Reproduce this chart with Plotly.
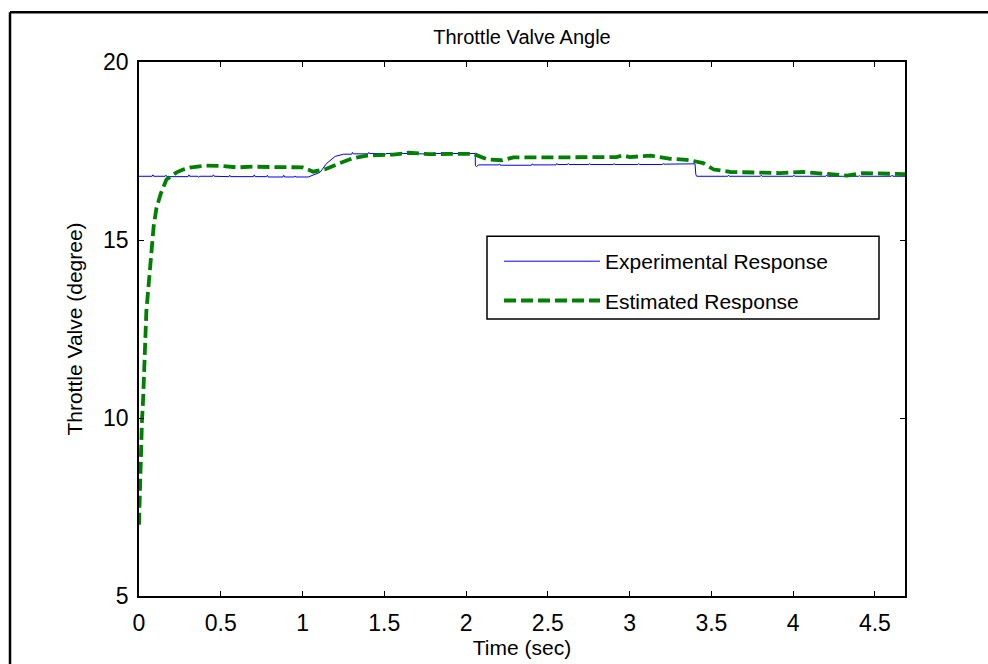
import plotly.graph_objects as go

# ---------------- data ----------------
est_t = [0.000, 0.005, 0.010, 0.018, 0.025, 0.035, 0.045, 0.060, 0.072, 0.090,
         0.107, 0.133, 0.168, 0.200, 0.230, 0.270, 0.310, 0.410, 0.500, 0.600,
         0.700, 0.800, 0.900, 1.000, 1.065, 1.147, 1.229, 1.310, 1.393, 1.555,
         1.650, 1.780, 1.900, 2.045, 2.100, 2.135, 2.220, 2.290, 2.500, 2.700,
         2.920, 2.960, 3.000, 3.130, 3.250, 3.330, 3.370, 3.450, 3.515, 3.617,
         3.780, 3.920, 4.060, 4.190, 4.330, 4.430, 4.615, 4.684]
est_v = [7.00, 8.00, 9.10, 9.90, 10.50, 11.70, 13.00, 13.80, 14.50, 15.40,
         15.90, 16.30, 16.70, 16.82, 16.90, 16.98, 17.03, 17.09, 17.08, 17.04,
         17.06, 17.05, 17.05, 17.04, 16.92, 17.00, 17.16, 17.30, 17.37, 17.40,
         17.45, 17.41, 17.42, 17.42, 17.32, 17.26, 17.24, 17.32, 17.32, 17.32,
         17.33, 17.38, 17.33, 17.37, 17.28, 17.26, 17.24, 17.16, 16.98, 16.91,
         16.88, 16.88, 16.91, 16.86, 16.81, 16.88, 16.86, 16.85]

exp_t = [0.00, 0.08, 0.085, 0.09, 0.16, 0.165, 0.17, 0.30, 0.305, 0.31,
         0.36, 0.365, 0.37, 0.45, 0.455, 0.46, 0.55, 0.555, 0.56, 0.60,
         0.605, 0.61, 0.70, 0.705, 0.71, 0.78, 0.785, 0.79, 0.88, 0.885,
         0.89, 0.95, 0.955, 0.96, 1.035, 1.107, 1.147, 1.200, 1.250, 1.30,
         1.305, 1.31, 1.40, 1.405, 1.41, 1.50, 1.505, 1.51, 1.60, 1.605,
         1.61, 1.70, 1.705, 1.71, 1.80, 1.805, 1.81, 1.90, 1.905, 1.91,
         2.00, 2.056, 2.057, 2.065, 2.075, 2.20, 2.205, 2.21, 2.40, 2.405,
         2.41, 2.55, 2.555, 2.56, 2.62, 2.625, 2.63, 2.75, 2.755, 2.76,
         2.90, 2.905, 2.91, 3.05, 3.055, 3.06, 3.20, 3.205, 3.21, 3.30,
         3.35, 3.400, 3.405, 3.41, 3.60, 3.605, 3.61, 3.80, 3.805, 3.81,
         4.00, 4.005, 4.01, 4.20, 4.205, 4.21, 4.40, 4.405, 4.41, 4.60,
         4.605, 4.61, 4.684]
exp_v = [16.79, 16.79, 16.83, 16.79, 16.79, 16.82, 16.78, 16.78, 16.83, 16.79,
         16.79, 16.76, 16.79, 16.79, 16.83, 16.79, 16.78, 16.82, 16.78, 16.78,
         16.76, 16.78, 16.78, 16.83, 16.78, 16.78, 16.82, 16.77, 16.77, 16.82,
         16.77, 16.77, 16.80, 16.77, 16.77, 16.90, 17.15, 17.35, 17.41, 17.41,
         17.46, 17.42, 17.42, 17.46, 17.43, 17.43, 17.40, 17.43, 17.43, 17.47,
         17.43, 17.43, 17.46, 17.42, 17.42, 17.46, 17.43, 17.43, 17.46, 17.43,
         17.43, 17.43, 17.09, 17.06, 17.11, 17.11, 17.14, 17.10, 17.10, 17.14,
         17.11, 17.11, 17.15, 17.12, 17.12, 17.15, 17.12, 17.12, 17.15, 17.12,
         17.12, 17.15, 17.12, 17.12, 17.15, 17.12, 17.12, 17.15, 17.13, 17.14,
         17.14, 17.14, 16.84, 16.79, 16.79, 16.82, 16.79, 16.79, 16.82, 16.79,
         16.79, 16.82, 16.79, 16.79, 16.82, 16.79, 16.79, 16.81, 16.79, 16.79,
         16.82, 16.79, 16.79]

x_ticks = [0, 0.5, 1, 1.5, 2, 2.5, 3, 3.5, 4, 4.5]
x_tick_text = ["0", "0.5", "1", "1.5", "2", "2.5", "3", "3.5", "4", "4.5"]
y_ticks = [5, 10, 15, 20]
y_tick_text = ["5", "10", "15", "20"]

FONT = "Liberation Sans, Arial, sans-serif"

fig = go.Figure()
fig.add_trace(go.Scatter(
    x=exp_t, y=exp_v, mode="lines", name="Experimental Response",
    line=dict(color="rgb(0,0,255)", width=1), legendgroup="a"))
fig.add_trace(go.Scatter(
    x=est_t, y=est_v, mode="lines", name="Estimated Response",
    line=dict(color="rgb(0,128,0)", width=3.8, dash="12px,5px"), legendgroup="b"))

axis_common = dict(
    showline=True, linecolor="black", linewidth=1.5, mirror="ticks",
    ticks="inside", ticklen=5, tickcolor="black", showgrid=False, zeroline=False,
    tickfont=dict(family=FONT, size=23, color="black"),
)

fig.update_layout(
    width=988, height=664,
    margin=dict(l=139, r=83, t=62, b=66),
    paper_bgcolor="white", plot_bgcolor="white",
    title=dict(text="Throttle Valve Angle", x=0.5283, xanchor="center",
               y=0.944, yanchor="middle",
               font=dict(family=FONT, size=20, color="black")),
    xaxis=dict(range=[0, 4.684], tickvals=x_ticks, ticktext=x_tick_text,
               title=dict(text="Time (sec)", font=dict(family=FONT, size=21, color="black"),
                          standoff=1),
               ticklabelstandoff=6, **axis_common),
    yaxis=dict(range=[5, 20], tickvals=y_ticks, ticktext=y_tick_text,
               title=dict(text="Throttle Valve (degree)", font=dict(family=FONT, size=21, color="black"),
                          standoff=15),
               ticklabelstandoff=4, **axis_common),
    legend=dict(x=0.470, y=0.6647, xanchor="left", yanchor="top",
                bgcolor="rgba(0,0,0,0)", borderwidth=0,
                font=dict(family=FONT, size=21, color="black"),
                itemwidth=96, tracegroupgap=9),
    showlegend=True,
)

# legend box and outer figure frame
fig.add_shape(type="rect", xref="paper", yref="paper",
              x0=(487 - 139) / 766, x1=(879 - 139) / 766,
              y0=(598 - 320) / 536, y1=(598 - 237) / 536,
              line=dict(color="black", width=1.5))
fig.add_shape(type="line", xref="paper", yref="paper",
              x0=(10 - 139) / 766, x1=(988 - 139) / 766,
              y0=(598 - 12) / 536, y1=(598 - 12) / 536,
              line=dict(color="black", width=2.5))
fig.add_shape(type="line", xref="paper", yref="paper",
              x0=(10 - 139) / 766, x1=(10 - 139) / 766,
              y0=(598 - 12) / 536, y1=(598 - 668) / 536,
              line=dict(color="black", width=2.5))

fig.write_html("out.html")
